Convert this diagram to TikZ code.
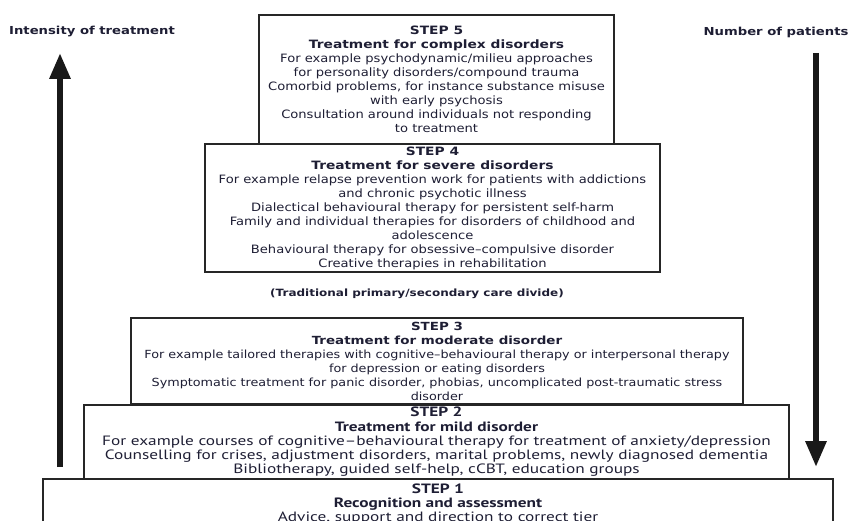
\documentclass[tikz,border=0pt]{standalone}
\usepackage{fontspec}
\setmainfont{DejaVu Sans}[FakeStretch=1.14, BoldFeatures={FakeStretch=1.2}]
\newfontfamily\narrowfont{PT Sans}[FakeStretch=1.28]
\usetikzlibrary{arrows.meta,positioning}
\definecolor{inkblue}{RGB}{30,30,52}

\begin{document}
\begin{tikzpicture}[x=1pt,y=-1pt,
		stepbox/.style={draw=black!85, line width=2pt, anchor=north west, align=center, inner sep=0pt, text=inkblue},
		widefont/.style={font=\fontsize{11.5}{14}\selectfont},
		smallfont/.style={font=\fontsize{11.2}{14}\selectfont},
		narrowtext/.style={font=\narrowfont\fontsize{13.5}{14.3}\selectfont},
		headlabel/.style={font=\fontsize{11}{12}\selectfont\bfseries, text=inkblue},
		trend/.style={line width=6pt, draw=black!90, -{Triangle[width=20pt,length=26pt]}}
		]
	\useasboundingbox (0,0) rectangle (849,521);

	% --- les cinq marches ---
	\node[stepbox, widefont, minimum width=355, minimum height=129] (step5) at (258,14)
		{\textbf{STEP 5}\\ \textbf{Treatment for complex disorders}\\
		For example psychodynamic/milieu approaches\\
		for personality disorders/compound trauma\\
		Comorbid problems, for instance substance misuse\\
		with early psychosis\\
		Consultation around individuals not responding\\
		to treatment};
	\node[stepbox, widefont, minimum width=455, minimum height=128] (step4) at (204,143)
		{\textbf{STEP 4}\\ \textbf{Treatment for severe disorders}\\
		For example relapse prevention work for patients with addictions\\
		and chronic psychotic illness\\
		Dialectical behavioural therapy for persistent self-harm\\
		Family and individual therapies for disorders of childhood and\\
		adolescence\\
		Behavioural therapy for obsessive–compulsive disorder\\
		Creative therapies in rehabilitation};
	\node[headlabel, font=\fontsize{10}{12}\selectfont\bfseries] (divide) at (417,294) {(Traditional primary/secondary care divide)};
	\node[stepbox, smallfont, minimum width=612, minimum height=86] (step3) at (130,317)
		{\textbf{STEP 3}\\ \textbf{Treatment for moderate disorder}\\
		For example tailored therapies with cognitive–behavioural therapy or interpersonal therapy\\
		for depression or eating disorders\\
		Symptomatic treatment for panic disorder, phobias, uncomplicated post-traumatic stress\\
		disorder};
	\node[stepbox, narrowtext, minimum width=705, minimum height=74] (step2) at (83,404)
		{\textbf{STEP 2}\\ \textbf{Treatment for mild disorder}\\
		For example courses of cognitive–behavioural therapy for treatment of anxiety/depression\\
		Counselling for crises, adjustment disorders, marital problems, newly diagnosed dementia\\
		Bibliotherapy, guided self-help, cCBT, education groups};
	\node[stepbox, narrowtext, minimum width=790, minimum height=50] (step1) at (42,478)
		{\textbf{STEP 1}\\ \textbf{Recognition and assessment}\\
		Advice, support and direction to correct tier};

	% --- flèches latérales ---
	\node[headlabel] (intensity) at (92,32) {Intensity of treatment};
	\node[headlabel] (patients) at (776,32) {Number of patients};
	\coordinate (intensitylow) at (60,467);
	\coordinate (intensityhigh) at (60,53);
	\coordinate (patientsfew) at (816,53);
	\coordinate (patientsmany) at (816,467);
	\draw[trend] (intensitylow) -- (intensityhigh);
	\draw[trend] (patientsfew) -- (patientsmany);

\end{tikzpicture}
\end{document}
